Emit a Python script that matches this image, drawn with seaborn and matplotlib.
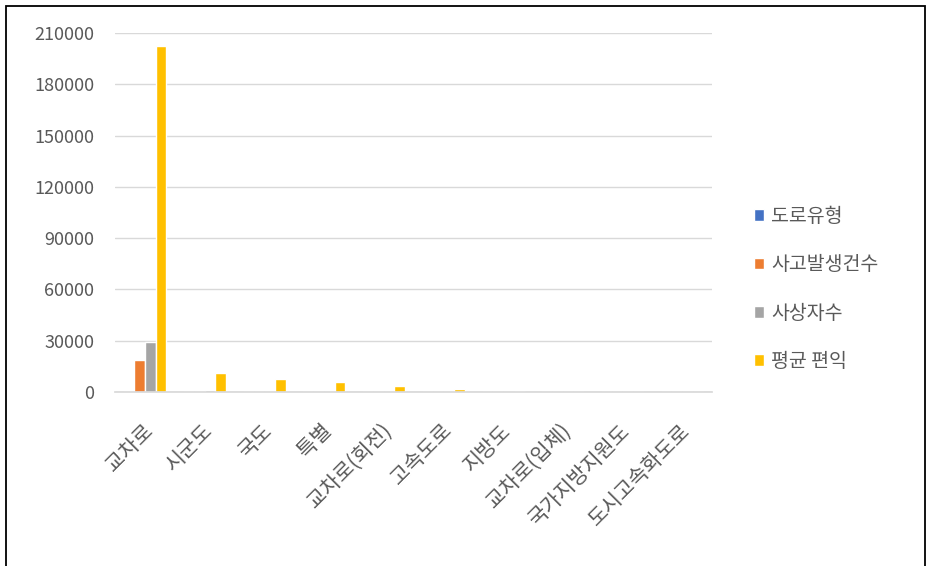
import matplotlib
matplotlib.use("Agg")
import matplotlib.pyplot as plt
import matplotlib.transforms as mtransforms
import seaborn as sns
import pandas as pd

categories = ["교차로", "시군도", "국도", "특별", "교차로(회전)", "고속도로",
              "지방도", "교차로(입체)", "국가지방지원도", "도시고속화도로"]
road_type = [0, 0, 0, 0, 0, 0, 0, 0, 0, 0]
accidents = [18800, 250, 150, 100, 80, 60, 40, 30, 20, 10]
casualties = [29300, 900, 250, 150, 120, 100, 60, 50, 30, 20]
avg_benefit = [202300, 10900, 7400, 6000, 3600, 1500, 300, 200, 100, 80]
series_names = ["도로유형", "사고발생건수", "사상자수", "평균 편익"]
colors = ["#4472C4", "#ED7D31", "#A5A5A5", "#FFC000"]
yticks = [0, 30000, 60000, 90000, 120000, 150000, 180000, 210000]

df = pd.DataFrame({"cat": categories, series_names[0]: road_type,
                   series_names[1]: accidents, series_names[2]: casualties,
                   series_names[3]: avg_benefit})
long = df.melt(id_vars="cat", var_name="series", value_name="value")

sns.set_theme(style="white")
plt.rcParams["font.family"] = ["Noto Sans CJK KR", "DejaVu Sans"]

fig = plt.figure(figsize=(9.32, 5.66), dpi=100)
ax = fig.add_axes([115/932, 1 - 392/566, (712-115)/932, (392-33)/566])
sns.barplot(data=long, x="cat", y="value", hue="series", hue_order=series_names,
            palette=colors, ax=ax, width=0.72, saturation=1, legend=True,
            errorbar=None)

ax.set_ylim(0, 210000)
ax.set_yticks(yticks)
ax.set_yticklabels([str(v) for v in yticks], fontsize=13, color="#595959")
ax.yaxis.grid(True, color="#D9D9D9", linewidth=1)
ax.set_axisbelow(True)
for s in ["left", "right", "top"]:
    ax.spines[s].set_visible(False)
ax.spines["bottom"].set_color("#D9D9D9")
ax.tick_params(axis="y", length=0, pad=15)
ax.tick_params(axis="x", length=0, pad=20)
ax.set_xlabel("")
ax.set_ylabel("")
ax.set_xticks(range(len(categories)))
ax.set_xticklabels(categories, rotation=45, ha="right", va="top",
                   rotation_mode="anchor", fontsize=15, color="#595959")
offset = mtransforms.ScaledTranslation(-3/100, 0, fig.dpi_scale_trans)
for lbl in ax.get_xticklabels():
    lbl.set_transform(lbl.get_transform() + offset)

leg = ax.legend(loc="center left", bbox_to_anchor=(736/932, 1 - 289/566),
                bbox_transform=fig.transFigure, frameon=False, fontsize=14,
                handlelength=0.55, handleheight=0.55, handletextpad=0.35,
                labelspacing=1.4)
for t in leg.get_texts():
    t.set_color("#595959")

fig.patches.append(plt.Rectangle((6/932, -0.01), 919/932, 1.01 - 6/566, transform=fig.transFigure,
                                 fill=False, edgecolor="black", linewidth=1.3))

fig.savefig("out.png", dpi=100, facecolor="white")
